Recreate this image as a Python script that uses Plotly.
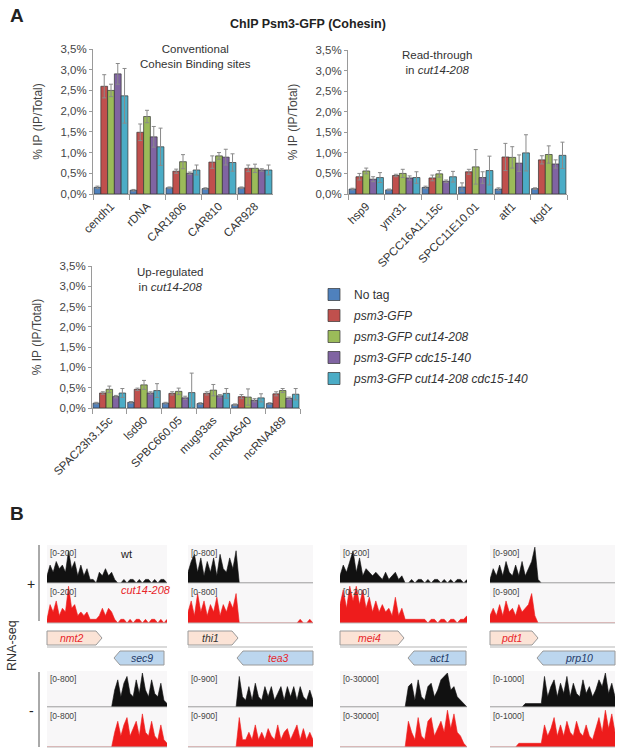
import plotly.graph_objects as go

W, H = 617, 751


def px(x):
    return x / W


def py(y):
    return 1 - y / H


# ---------------- panel A data ----------------
series = ["No tag", "<i>psm3-GFP</i>", "<i>psm3-GFP cut14-208</i>",
          "<i>psm3-GFP cdc15-140</i>", "<i>psm3-GFP cut14-208 cdc15-140</i>"]
colors = ["#4f81bd", "#c0504d", "#9bbb59", "#8064a2", "#4bacc6"]

conv_sites = ["cendh1", "rDNA", "CAR1806", "CAR810", "CAR928"]
conv_vals = [
    [0.16, 0.09, 0.15, 0.13, 0.15],
    [2.60, 1.49, 0.55, 0.77, 0.62],
    [2.50, 1.87, 0.78, 0.92, 0.62],
    [2.90, 1.38, 0.50, 0.89, 0.58],
    [2.37, 1.14, 0.58, 0.76, 0.58],
]
conv_err = [
    [0.03, 0.02, 0.02, 0.02, 0.02],
    [0.28, 0.20, 0.05, 0.15, 0.08],
    [0.15, 0.15, 0.17, 0.08, 0.10],
    [0.25, 0.25, 0.03, 0.19, 0.03],
    [0.66, 0.45, 0.12, 0.21, 0.12],
]

rt_sites = ["hsp9", "ymr31", "SPCC16A11.15c", "SPCC11E10.01", "atf1", "kgd1"]
rt_vals = [
    [0.12, 0.10, 0.16, 0.17, 0.12, 0.13],
    [0.42, 0.45, 0.39, 0.54, 0.90, 0.83],
    [0.56, 0.50, 0.49, 0.66, 0.89, 0.96],
    [0.36, 0.39, 0.31, 0.40, 0.75, 0.73],
    [0.40, 0.40, 0.42, 0.57, 1.00, 0.94],
]
rt_err = [
    [0.02, 0.02, 0.03, 0.10, 0.03, 0.02],
    [0.08, 0.03, 0.07, 0.06, 0.33, 0.10],
    [0.07, 0.10, 0.08, 0.42, 0.26, 0.21],
    [0.06, 0.05, 0.03, 0.14, 0.20, 0.10],
    [0.12, 0.14, 0.13, 0.35, 0.44, 0.32],
]

up_sites = ["SPAC23h3.15c", "lsd90", "SPBC660.05", "mug93as", "ncRNA540", "ncRNA489"]
up_vals = [
    [0.12, 0.14, 0.12, 0.11, 0.08, 0.11],
    [0.37, 0.46, 0.36, 0.36, 0.28, 0.35],
    [0.46, 0.57, 0.41, 0.44, 0.27, 0.43],
    [0.28, 0.37, 0.25, 0.30, 0.19, 0.24],
    [0.37, 0.43, 0.38, 0.36, 0.25, 0.34],
]
up_err = [
    [0.02, 0.02, 0.02, 0.02, 0.02, 0.02],
    [0.03, 0.03, 0.04, 0.04, 0.05, 0.05],
    [0.08, 0.11, 0.08, 0.14, 0.20, 0.05],
    [0.03, 0.03, 0.04, 0.03, 0.04, 0.03],
    [0.11, 0.17, 0.48, 0.12, 0.10, 0.14],
]

pct_vals = [0, 0.5, 1.0, 1.5, 2.0, 2.5, 3.0, 3.5]
pct_text = ["0,0%", "0,5%", "1,0%", "1,5%", "2,0%", "2,5%", "3,0%", "3,5%"]

# ---------------- panel B data (relative coverage, 0-10) ----------------
nmt2_wt_plus = [2, 5, 3, 6, 4, 5, 3, 9, 4, 6, 2, 5, 2, 4, 1, 1, 0, 3, 2, 4,
                2, 3, 1, 0, 0, 1, 0, 1, 1, 0, 1, 0, 1, 1, 0, 1, 0, 1, 1, 0]
nmt2_cut_plus = [1, 5, 3, 6, 2, 4, 3, 10, 4, 5, 2, 3, 2, 3, 1, 1, 1, 2, 4, 2,
                 4, 3, 1, 0, 1, 1, 0, 1, 0, 1, 1, 0, 1, 0, 1, 1, 0, 1, 0, 1]
sec9_wt_minus = [0, 0, 0, 0, 0, 0, 0, 0, 0, 0, 0, 0, 0, 0, 0, 0, 0, 0, 0, 0,
                 0, 0, 5, 8, 3, 7, 9, 4, 3, 8, 4, 10, 5, 3, 8, 4, 3, 7, 2, 1]
sec9_cut_minus = [0, 0, 0, 0, 0, 0, 0, 0, 0, 0, 0, 0, 0, 0, 0, 0, 0, 0, 0, 0,
                  0, 0, 4, 7, 3, 6, 8, 3, 5, 7, 3, 9, 4, 3, 7, 3, 2, 6, 2, 1]

thi1_wt_plus = [3, 6, 8, 3, 7, 2, 6, 3, 7, 2, 8, 4, 3, 7, 4, 9, 0, 0, 0, 0,
                0, 0, 0, 0, 0, 0, 0, 0, 0, 0, 0, 0, 0, 0, 0, 0, 0, 0, 0, 0]
thi1_cut_plus = [3, 6, 2, 8, 3, 6, 2, 5, 3, 7, 2, 5, 3, 6, 4, 8, 0, 0, 0, 0,
                 0, 0, 0, 0, 0, 0, 0, 0, 0, 0, 0, 0, 0, 0, 0, 1, 0, 0, 1, 0]
tea3_wt_minus = [0, 0, 0, 0, 0, 0, 0, 0, 0, 0, 0, 0, 0, 0, 0, 0, 9, 3, 2, 6,
                 2, 7, 3, 2, 6, 3, 6, 2, 4, 6, 2, 6, 3, 6, 2, 6, 3, 2, 5, 2]
tea3_cut_minus = [0, 0, 0, 0, 0, 0, 0, 0, 0, 0, 0, 0, 0, 0, 0, 0, 8, 2, 2, 4,
                  2, 6, 2, 4, 2, 5, 3, 2, 6, 2, 4, 5, 2, 4, 6, 2, 5, 2, 4, 2]

mei4_wt_plus = [2, 5, 3, 6, 9, 3, 7, 2, 4, 3, 2, 3, 2, 1, 3, 1, 2, 3, 1, 2,
                0, 0, 1, 0, 1, 1, 0, 1, 0, 1, 1, 0, 1, 0, 1, 0, 1, 1, 0, 1]
mei4_cut_plus = [5, 9, 4, 10, 6, 10, 5, 9, 4, 7, 3, 6, 3, 5, 3, 4, 2, 7, 2, 4,
                 1, 1, 1, 1, 1, 1, 1, 0, 1, 1, 0, 1, 1, 0, 1, 1, 0, 1, 1, 2]
act1_wt_minus = [0, 0, 0, 0, 0, 0, 0, 0, 0, 0, 0, 0, 0, 0, 0, 0, 0, 0, 0, 0,
                 0, 6, 7, 2, 8, 3, 2, 6, 7, 3, 5, 8, 9, 10, 5, 6, 3, 2, 1, 0]
act1_cut_minus = [0, 0, 0, 0, 0, 0, 0, 0, 0, 0, 0, 0, 0, 0, 0, 0, 0, 0, 0, 0,
                  0, 7, 4, 2, 8, 3, 2, 7, 8, 3, 5, 7, 4, 10, 5, 9, 4, 3, 1, 0]

pdt1_wt_plus = [1, 4, 2, 5, 2, 6, 3, 2, 5, 2, 6, 2, 4, 6, 10, 1, 0, 0, 0, 0,
                0, 0, 0, 0, 0, 0, 0, 0, 0, 0, 0, 0, 0, 0, 0, 0, 0, 0, 0, 0]
pdt1_cut_plus = [2, 4, 2, 5, 2, 6, 3, 4, 2, 5, 3, 4, 5, 8, 2, 0, 0, 0, 0, 0,
                 0, 0, 0, 0, 0, 0, 0, 0, 0, 0, 0, 0, 0, 0, 0, 0, 0, 0, 0, 0]
prp10_wt_minus = [0, 0, 0, 0, 0, 0, 0, 0, 0, 0, 0, 1, 1, 1, 1, 1, 1, 9, 3, 6,
                  8, 3, 7, 4, 9, 3, 7, 4, 3, 8, 4, 6, 3, 5, 8, 6, 10, 4, 7, 3]
prp10_cut_minus = [0, 0, 0, 0, 0, 0, 0, 0, 0, 1, 1, 1, 1, 1, 1, 1, 1, 6, 3, 5,
                   8, 3, 6, 3, 7, 4, 3, 7, 4, 3, 6, 3, 2, 5, 8, 4, 10, 5, 9, 4]

track_cols = [
    [nmt2_wt_plus, nmt2_cut_plus, sec9_wt_minus, sec9_cut_minus],
    [thi1_wt_plus, thi1_cut_plus, tea3_wt_minus, tea3_cut_minus],
    [mei4_wt_plus, mei4_cut_plus, act1_wt_minus, act1_cut_minus],
    [pdt1_wt_plus, pdt1_cut_plus, prp10_wt_minus, prp10_cut_minus],
]
track_scales = [
    ["[0-200]", "[0-200]", "[0-800]", "[0-800]"],
    ["[0-800]", "[0-800]", "[0-900]", "[0-900]"],
    ["[0-200]", "[0-200]", "[0-30000]", "[0-30000]"],
    ["[0-900]", "[0-900]", "[0-1000]", "[0-1000]"],
]
track_colors = ["#111111", "#ee1c1c", "#111111", "#ee1c1c"]

RED = "#e8262a"
NAVY = "#1f3a68"
genes = [
    ("nmt2", 47, 102, 1, RED), ("sec9", 114, 164, 2, NAVY),
    ("thi1", 188, 238, 1, "#333333"), ("tea3", 237, 313, 2, RED),
    ("mei4", 340, 404, 1, RED), ("act1", 408, 466, 2, NAVY),
    ("pdt1", 490, 538, 1, RED), ("prp10", 537, 615, 2, NAVY),
]

FONT = "Liberation Sans, Arial, sans-serif"
fig = go.Figure()

# ---------------- panel A bars ----------------
panels = [(conv_sites, conv_vals, conv_err, "x", "y"),
          (rt_sites, rt_vals, rt_err, "x2", "y2"),
          (up_sites, up_vals, up_err, "x3", "y3")]
for p, (sites, vals, errs, xa, ya) in enumerate(panels):
    for i in range(5):
        fig.add_trace(go.Bar(
            x=sites, y=vals[i], name=series[i], xaxis=xa, yaxis=ya,
            marker=dict(color=colors[i], line=dict(color="#333333", width=0.7)),
            error_y=dict(type="data", array=errs[i], color="#8a8a8a", thickness=1, width=2),
            showlegend=(p == 0), legendgroup=str(i),
        ))

xcommon = dict(type="category", showline=True, linecolor="#9a9a9a", linewidth=1,
               ticks="outside", tickson="boundaries", ticklen=5, tickcolor="#9a9a9a",
               tickangle=-45, tickfont=dict(size=11.5, color="#333"), showgrid=False,
               automargin=False)
ycommon = dict(range=[0, 3.5], tickvals=pct_vals, ticktext=pct_text, showline=True,
               linecolor="#9a9a9a", linewidth=1, ticks="outside", ticklen=3,
               tickcolor="#9a9a9a", tickfont=dict(size=11.5, color="#444"),
               showgrid=False, zeroline=False, automargin=False,
               title=dict(text="% IP (IP/Total)", font=dict(size=12, color="#444")))

layout = dict(
    width=W, height=H, margin=dict(l=0, r=0, t=0, b=0, autoexpand=False),
    paper_bgcolor="white", plot_bgcolor="rgba(0,0,0,0)",
    font=dict(family=FONT, size=12, color="#444"),
    barmode="group", bargap=0.06, bargroupgap=0,
    showlegend=True,
    legend=dict(x=px(314), y=py(280), xanchor="left", yanchor="top",
                font=dict(size=12, color="#333"), tracegroupgap=2,
                bgcolor="rgba(0,0,0,0)"),
    xaxis=dict(domain=[px(93), px(273)], anchor="y", **xcommon),
    yaxis=dict(domain=[py(194), py(49)], anchor="x", **ycommon),
    xaxis2=dict(domain=[px(348), px(567)], anchor="y2", **xcommon),
    yaxis2=dict(domain=[py(194), py(50)], anchor="x2", **ycommon),
    xaxis3=dict(domain=[px(92), px(300)], anchor="y3", **xcommon),
    yaxis3=dict(domain=[py(408), py(266)], anchor="x3", **ycommon),
)

shapes = []
annotations = [
    dict(x=px(8), y=py(3), text="<b>A</b>", font=dict(size=19, color="#222")),
    dict(x=px(8), y=py(501), text="<b>B</b>", font=dict(size=19, color="#222")),
    dict(x=px(308), y=py(24), text="<b>ChIP Psm3-GFP (Cohesin)</b>", xanchor="center",
         yanchor="middle", font=dict(size=12.5, color="#222")),
    dict(x=px(195), y=py(41), text="Conventional<br>Cohesin Binding sites", xanchor="center",
         font=dict(size=11.5, color="#333")),
    dict(x=px(437), y=py(47), text="Read-through<br>in <i>cut14-208</i>", xanchor="center",
         font=dict(size=11.5, color="#333")),
    dict(x=px(170), y=py(264), text="Up-regulated<br>in <i>cut14-208</i>", xanchor="center",
         font=dict(size=11.5, color="#333")),
]

# ---------------- panel B tracks ----------------
col_x = [(47, 167), (188, 313), (340, 467), (490, 615)]
row_y = [(545, 583), (584, 623), (671, 707), (708, 747)]
k = 4
for c, tracks in enumerate(track_cols):
    x0, x1 = col_x[c]
    for r, vals in enumerate(tracks):
        y0, y1 = row_y[r]
        layout[f"xaxis{k}"] = dict(domain=[px(x0), px(x1)], anchor=f"y{k}", visible=False,
                                   range=[0, len(vals) - 1], fixedrange=True)
        layout[f"yaxis{k}"] = dict(domain=[py(y1), py(y0)], anchor=f"x{k}", visible=False,
                                   range=[0, 10.6], fixedrange=True)
        fig.add_trace(go.Scatter(
            x=list(range(len(vals))), y=vals, xaxis=f"x{k}", yaxis=f"y{k}",
            mode="lines", fill="tozeroy", line=dict(color=track_colors[r], width=0.6),
            fillcolor=track_colors[r], showlegend=False, hoverinfo="skip"))
        shapes.append(dict(type="rect", xref="paper", yref="paper", x0=px(x0), x1=px(x1),
                           y0=py(y1), y1=py(y0), fillcolor="#f8f7f8", line=dict(width=0),
                           layer="below"))
        shapes.append(dict(type="line", xref="paper", yref="paper", x0=px(x0), x1=px(x1),
                           y0=py(y1), y1=py(y1), line=dict(color="#bbbbbb", width=1)))
        annotations.append(dict(x=px(x0 + 1), y=py(y0 + 1), text=track_scales[c][r],
                                xanchor="left", yanchor="top",
                                font=dict(size=8.5, color="#444")))
        k += 1
    shapes.append(dict(type="line", xref="paper", yref="paper", x0=px(x0), x1=px(x1),
                       y0=py(647), y1=py(647), line=dict(color="#b5b5b5", width=1.2)))

# gene arrows
tip = 6
for name, g0, g1, row, tcol in genes:
    ya, yb = (631, 645) if row == 1 else (651, 665)
    ym = (ya + yb) / 2
    if row == 1:
        path = (f"M {px(g0)},{py(ya)} L {px(g1 - tip)},{py(ya)} L {px(g1)},{py(ym)} "
                f"L {px(g1 - tip)},{py(yb)} L {px(g0)},{py(yb)} Z")
        fill = "#fbe3d6"
        cx = (g0 + g1 - tip) / 2
    else:
        path = (f"M {px(g0)},{py(ym)} L {px(g0 + tip)},{py(ya)} L {px(g1)},{py(ya)} "
                f"L {px(g1)},{py(yb)} L {px(g0 + tip)},{py(yb)} Z")
        fill = "#bcd6ee"
        cx = (g0 + tip + g1) / 2
    shapes.append(dict(type="path", xref="paper", yref="paper", path=path, fillcolor=fill,
                       line=dict(color="#9a9a9a", width=1)))
    annotations.append(dict(x=px(cx), y=py(ym), text=f"<i>{name}</i>", xanchor="center",
                            yanchor="middle", font=dict(size=10.5, color=tcol)))

# strand brackets and labels
shapes.append(dict(type="line", xref="paper", yref="paper", x0=px(39), x1=px(39),
                   y0=py(545), y1=py(621), line=dict(color="#555", width=1)))
shapes.append(dict(type="line", xref="paper", yref="paper", x0=px(39), x1=px(39),
                   y0=py(672), y1=py(747), line=dict(color="#555", width=1)))
annotations += [
    dict(x=px(31), y=py(584), text="+", xanchor="center", yanchor="middle",
         font=dict(size=14, color="#222")),
    dict(x=px(31), y=py(711), text="-", xanchor="center", yanchor="middle",
         font=dict(size=14, color="#222")),
    dict(x=px(12), y=py(646), text="RNA-seq", textangle=-90, xanchor="center",
         yanchor="middle", font=dict(size=12.5, color="#333")),
    dict(x=px(126), y=py(554), text="wt", xanchor="center", yanchor="middle",
         font=dict(size=11, color="#222")),
    dict(x=px(146), y=py(590), text="<i>cut14-208</i>", xanchor="center", yanchor="middle",
         font=dict(size=11, color=RED)),
]

for a in annotations:
    a.setdefault("xref", "paper")
    a.setdefault("yref", "paper")
    a.setdefault("xanchor", "left")
    a.setdefault("yanchor", "top")
    a["showarrow"] = False

layout["shapes"] = shapes
layout["annotations"] = annotations
fig.update_layout(layout)

# the page body has a default 8px margin; drop it so the figure fills the window
fig.write_html("out.html", config={"displayModeBar": False},
               post_script="document.body.style.margin='0';document.body.style.overflow='hidden';")
